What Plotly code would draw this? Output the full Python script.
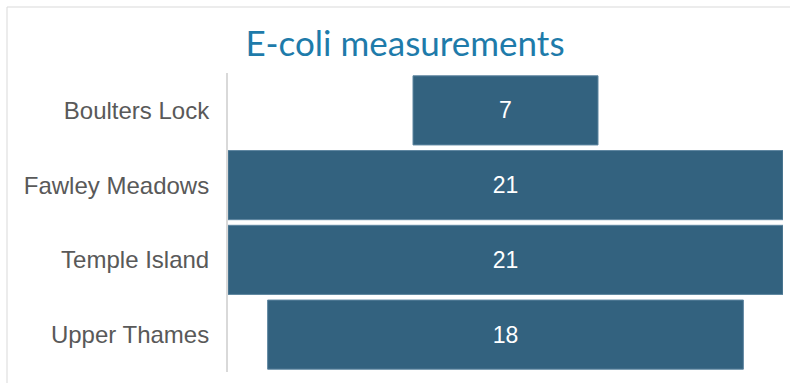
import plotly.graph_objects as go

categories = ["Boulters Lock", "Fawley Meadows", "Temple Island", "Upper Thames"]
values = [7, 21, 21, 18]

fig = go.Figure(go.Funnel(
    y=categories,
    x=values,
    textinfo="value",
    textposition="inside",
    insidetextfont=dict(color="white", size=23, family="Liberation Sans, Arial"),
    marker=dict(color="#33627F", line=dict(width=1, color="#5E86A0")),
    connector=dict(visible=False),
    hoverinfo="y+x",
))

L, R, T, B = 228, 7, 73, 11
W, H = 790, 383
pw, ph = W - L - R, H - T - B

fig.update_layout(
    width=W, height=H,
    margin=dict(l=L, r=R, t=T, b=B),
    paper_bgcolor="white",
    plot_bgcolor="white",
    funnelgap=0.075,
    showlegend=False,
    title=dict(
        text="E-coli measurements",
        x=405 / W, xanchor="center", xref="container",
        y=1 - 44 / H, yanchor="middle", yref="container",
        font=dict(size=35, color="#1E7BAA", family="Lato, Open Sans, sans-serif"),
    ),
    xaxis=dict(visible=False, range=[-10.5, 10.5]),
    yaxis=dict(
        showline=True, linecolor="#D9D9D9", linewidth=2,
        showgrid=False, ticks="",
        tickfont=dict(size=24, color="#595959", family="Liberation Sans, Arial"),
        ticklabelstandoff=12,
    ),
    shapes=[dict(
        type="rect", xref="paper", yref="paper",
        x0=(7 - L) / pw, x1=(W + 20 - L) / pw,
        y0=-(B + 20) / ph, y1=1 + (T - 7) / ph,
        line=dict(color="#D9D9D9", width=1), layer="below",
    )],
)

fig.write_html("out.html")
